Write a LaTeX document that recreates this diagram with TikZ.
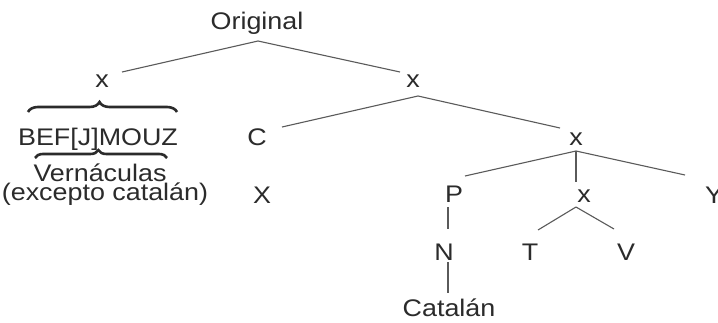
\documentclass[tikz,border=0pt]{standalone}
\usepackage{fontspec}
\setmainfont{Liberation Sans}[FakeStretch=1.12]
\usetikzlibrary{decorations.pathreplacing,calc}
\definecolor{ink}{HTML}{2B2B2B}
\definecolor{edgecol}{HTML}{5A5A5A}
\begin{document}
\begin{tikzpicture}[x=1pt,y=-1pt,
  lab/.style={anchor=base,inner sep=0pt,outer sep=0pt,text=ink,font=\fontsize{24}{19}\selectfont},
  edgeline/.style={draw=edgecol,line width=1.1pt},
  brc/.style={draw=ink,line width=2.6pt,decorate,decoration={brace,amplitude=#1,aspect=0.48}}]
\useasboundingbox[fill=white] (0,0) rectangle (718,322);
% nodes
\node[lab] (orig) at (257,29) {Original};
\node[lab] (xl) at (102,87) {x};
\node[lab] (xr) at (413,87) {x};
\node[lab] (bef) at (98,145) {BEF[J]MOUZ};
\node[lab] (vern) at (100,181) {Vernáculas};
\node[lab] (exc) at (105,200) {(excepto catalán)};
\node[lab] (C) at (257,145) {C};
\node[lab] (X) at (262,203) {X};
\node[lab] (x2) at (576,145) {x};
\node[lab] (P) at (454,202) {P};
\node[lab] (x3) at (584,202) {x};
\node[lab] (Y) at (714,203) {Y};
\node[lab] (N) at (444,260) {N};
\node[lab] (T) at (530,260) {T};
\node[lab] (V) at (626,260) {V};
\node[lab] (cat) at (449,316) {Catalán};
% connectors
\draw[edgeline] ($(orig.base)+(1,12)$) -- ($(xl.base)+(20,-15)$);
\draw[edgeline] ($(orig.base)+(1,12)$) -- ($(xr.base)+(-13,-15)$);
\draw[edgeline] ($(xr.base)+(5,9)$) -- ($(C.base)+(25,-18)$);
\draw[edgeline] ($(xr.base)+(5,9)$) -- ($(x2.base)+(-16,-17)$);
\draw[edgeline] ($(x2.base)+(0,6)$) -- ($(P.base)+(11,-26)$);
\draw[edgeline] ($(x2.base)+(0,6)$) -- ($(x3.base)+(-8,-20)$);
\draw[edgeline] ($(x2.base)+(0,6)$) -- ($(Y.base)+(-29,-28)$);
\draw[edgeline] ($(P.base)+(-6,5)$) -- ($(N.base)+(4,-31)$);
\draw[edgeline] ($(N.base)+(4,2)$) -- ($(cat.base)+(-1,-23)$);
\draw[edgeline] ($(x3.base)+(-8,5)$) -- ($(T.base)+(8,-30)$);
\draw[edgeline] ($(x3.base)+(-8,5)$) -- ($(V.base)+(-12,-31)$);
% braces
\draw[brc=10] ($(bef.base)+(-70,-33)$) -- ($(bef.base)+(79,-33)$);
\draw[brc=8] ($(bef.base)+(-63,13)$) -- ($(bef.base)+(69,13)$);
\end{tikzpicture}
\end{document}
